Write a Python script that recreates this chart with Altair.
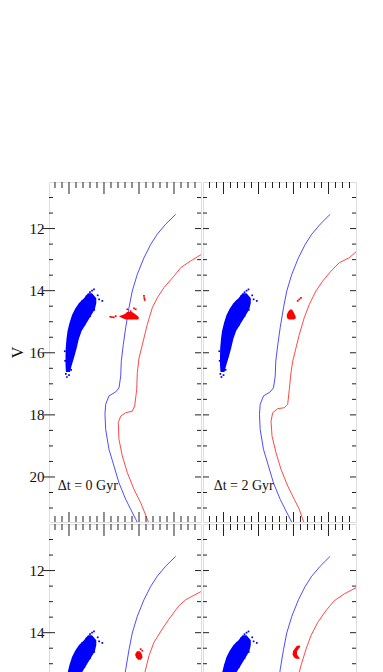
import altair as alt
import pandas as pd

# ---------------- data ----------------
# x = colour index, V = magnitude
blue_iso_c = [1.524, 1.381, 1.261, 1.167, 1.071, 0.976, 0.904, 0.857, 0.810, 0.776, 0.747, 0.739,
              0.714, 0.667, 0.571, 0.524, 0.514, 0.524, 0.571, 0.643, 0.714, 0.810, 0.881, 0.953, 1.0]
blue_iso_v = [11.54, 11.86, 12.18, 12.51, 12.94, 13.47, 14.01, 14.55, 15.19, 15.73, 16.27, 16.75,
              17.13, 17.26, 17.39, 17.66, 17.98, 18.47, 19.11, 19.65, 20.19, 20.72, 21.04, 21.36, 21.58]

red0_c = [1.929, 1.871, 1.739, 1.596, 1.5, 1.357, 1.261, 1.190, 1.119, 1.061, 1.0, 0.976, 0.967, 0.939,
          0.904, 0.810, 0.739, 0.704, 0.714, 0.761, 0.833, 0.929, 1.024, 1.119, 1.157]
red0_v = [12.79, 12.86, 13.04, 13.26, 13.53, 13.90, 14.23, 14.55, 15.08, 15.62, 16.17, 16.64, 17.18, 17.71,
          17.88, 17.93, 18.04, 18.25, 18.79, 19.32, 19.86, 20.40, 20.83, 21.36, 21.58]

red2_c = [1.964, 1.893, 1.797, 1.654, 1.536, 1.417, 1.321, 1.226, 1.154, 1.083, 1.036, 0.989, 0.964, 0.940,
          0.917, 0.869, 0.774, 0.703, 0.679, 0.693, 0.75, 0.821, 0.917, 1.011, 1.083, 1.14, 1.179]
red2_v = [12.69, 12.75, 12.94, 13.10, 13.37, 13.69, 14.01, 14.44, 14.87, 15.41, 15.84, 16.27, 16.64, 17.18,
          17.66, 17.77, 17.80, 17.93, 18.20, 18.68, 19.22, 19.75, 20.29, 20.72, 21.04, 21.42, 21.58]

red4_c = [1.95, 1.881, 1.667, 1.571, 1.429, 1.333, 1.214, 1.143, 1.096, 1.064]
red4_v = [12.60, 12.68, 12.94, 13.13, 13.56, 13.88, 14.31, 14.74, 15.17, 15.47]

red6_c = [1.95, 1.903, 1.726, 1.583, 1.464, 1.346, 1.25, 1.179, 1.107, 1.069, 1.05]
red6_v = [12.45, 12.54, 12.75, 12.97, 13.29, 13.67, 14.09, 14.53, 15.06, 15.38, 15.6]

# blue horizontal branch: dense band (left/right edge per magnitude) + scattered stars
hb_v = [14.08, 14.24, 14.40, 14.59, 14.78, 15.04, 15.30, 15.56, 15.85, 16.14, 16.39, 16.62]
hb_left = [0.271, 0.214, 0.143, 0.086, 0.043, 0.007, -0.021, -0.036, -0.047, -0.05, -0.05, -0.043]
hb_right = [0.329, 0.39, 0.39, 0.37, 0.32, 0.25, 0.18, 0.14, 0.11, 0.075, 0.04, 0.014]
hb_pts_c = [0.476, 0.41, 0.357, 0.329, 0.30, 0.43, 0.19, 0.12, -0.055, -0.03, -0.045, 0.0, 0.03,
            0.36, 0.30, 0.22, 0.25, -0.06]
hb_pts_v = [14.33, 14.15, 13.96, 14.00, 14.05, 14.28, 14.33, 14.55, 16.26, 16.78, 16.68, 16.72, 16.55,
            14.62, 14.82, 15.10, 14.18, 15.95]

# red clumps (band + scattered stars), one per panel
rc0_v = [14.69, 14.75, 14.82, 14.88, 14.93]
rc0_l = [0.829, 0.80, 0.714, 0.757, 0.814]
rc0_r = [0.90, 0.943, 0.986, 1.0, 0.986]
rc0_pts_c = [0.667, 0.614, 0.64, 0.59, 0.833, 0.929, 0.953, 0.881, 1.071, 1.076, 1.081]
rc0_pts_v = [14.82, 14.85, 14.86, 14.84, 14.60, 14.57, 14.60, 14.66, 14.17, 14.24, 14.30]

rc2_v = [14.61, 14.69, 14.78, 14.88, 14.93]
rc2_l = [0.95, 0.921, 0.903, 0.907, 0.936]
rc2_r = [0.979, 1.0, 1.021, 1.036, 1.007]
rc2_pts_c = [1.083, 1.107, 1.06]
rc2_pts_v = [14.28, 14.23, 14.33]

rc4_v = [14.60, 14.70, 14.79, 14.87]
rc4_l = [0.971, 0.943, 0.957, 0.986]
rc4_r = [1.014, 1.043, 1.05, 1.029]
rc4_pts_c = [1.024, 1.047]
rc4_pts_v = [14.53, 14.58]

rc6_v = [14.42, 14.50, 14.60, 14.70, 14.79, 14.84]
rc6_l = [1.05, 1.021, 0.993, 0.986, 1.007, 1.036]
rc6_r = [1.10, 1.079, 1.05, 1.05, 1.079, 1.093]
rc6_pts_c = [1.08]
rc6_pts_v = [14.45]

labels = ["\u0394t = 0 Gyr", "\u0394t = 2 Gyr"]
label_c = [-0.16, -0.14]
label_v = [20.3, 20.3]

x_major = [0.0, 0.5, 1.0, 1.5]
x_minor = [-0.2, -0.1, 0.1, 0.2, 0.3, 0.4, 0.6, 0.7, 0.8, 0.9, 1.1, 1.2, 1.3, 1.4, 1.6, 1.7, 1.8]
y_major = [12, 14, 16, 18, 20]
y_minor = [11, 11.5, 12.5, 13, 13.5, 14.5, 15, 15.5, 16.5, 17, 17.5, 18.5, 19, 19.5, 20.5, 21]

FONT = "Liberation Serif"
TICK = "#222222"
BLUE = "#2020ff"
RED = "#ff1a1a"


def panel(width, height, xdom, vdom, red_c, red_v, rc_v, rc_l, rc_r, rc_pc, rc_pv,
          label=None, lab_c=None, lab_v=None, left_axis=False, title=None, bottom=True):
    xs = alt.Scale(domain=xdom, nice=False, zero=False)
    ys = alt.Scale(domain=vdom, reverse=True, nice=False, zero=False)
    if left_axis:
        yax = alt.Axis(values=[v for v in y_major if vdom[0] <= v <= vdom[1]], ticks=False, domain=False,
                       grid=False, labelFont=FONT, labelFontSize=15, labelColor="#111",
                       labelPadding=5, title=title, titleFont=FONT, titleFontSize=16,
                       titleFontWeight="normal", titleColor="#111", titlePadding=4)
    else:
        yax = None

    def X(f):
        return alt.X(f, type="quantitative", scale=xs, axis=None)

    def Y(f="V"):
        return alt.Y(f, type="quantitative", scale=ys, axis=yax)

    layers = []
    hb = pd.DataFrame({"V": hb_v, "l": hb_left, "r": hb_right})
    layers.append(alt.Chart(hb).mark_area(orient="horizontal", color="#0000ff", clip=True)
                  .encode(y=Y(), x=X("l"), x2="r"))
    hbp = pd.DataFrame({"c": hb_pts_c, "V": hb_pts_v})
    layers.append(alt.Chart(hbp).mark_square(size=3, color="#0000ff", opacity=1, clip=True)
                  .encode(x=X("c"), y=Y()))
    bi = pd.DataFrame({"c": blue_iso_c, "V": blue_iso_v, "i": range(len(blue_iso_c))})
    layers.append(alt.Chart(bi).mark_line(color=BLUE, strokeWidth=0.8, clip=True)
                  .encode(x=X("c"), y=Y(), order="i:Q"))
    ri = pd.DataFrame({"c": red_c, "V": red_v, "i": range(len(red_c))})
    layers.append(alt.Chart(ri).mark_line(color=RED, strokeWidth=0.8, clip=True)
                  .encode(x=X("c"), y=Y(), order="i:Q"))
    rc = pd.DataFrame({"V": rc_v, "l": rc_l, "r": rc_r})
    layers.append(alt.Chart(rc).mark_area(orient="horizontal", color="#ff0000", clip=True)
                  .encode(y=Y(), x=X("l"), x2="r"))
    rcp = pd.DataFrame({"c": rc_pc, "V": rc_pv})
    layers.append(alt.Chart(rcp).mark_square(size=3, color="#ff0000", opacity=1, clip=True)
                  .encode(x=X("c"), y=Y()))
    if label:
        lt = pd.DataFrame({"c": [lab_c], "V": [lab_v], "t": [label]})
        layers.append(alt.Chart(lt).mark_text(align="left", baseline="middle", font=FONT,
                                               fontSize=14, color="#111")
                      .encode(x=X("c"), y=Y(), text="t:N"))

    xM = pd.DataFrame({"c": x_major})
    xm = pd.DataFrame({"c": x_minor})
    yM = pd.DataFrame({"V": [v for v in y_major if vdom[0] <= v <= vdom[1]]})
    ym = pd.DataFrame({"V": [v for v in y_minor if vdom[0] <= v <= vdom[1]]})

    def rule(df):
        return alt.Chart(df).mark_rule(color=TICK, strokeWidth=1)

    # top ticks (inward)
    layers.append(rule(xM).encode(x=X("c"), y=alt.value(0), y2=alt.value(12)))
    layers.append(rule(xm).encode(x=X("c"), y=alt.value(0), y2=alt.value(6)))
    if bottom:
        layers.append(rule(xM).encode(x=X("c"), y=alt.value(height), y2=alt.value(height - 10)))
        layers.append(rule(xm).encode(x=X("c"), y=alt.value(height), y2=alt.value(height - 6)))
    # left ticks
    layers.append(rule(yM).encode(y=Y(), x=alt.value(-6 if left_axis else 0), x2=alt.value(6)))
    layers.append(rule(ym).encode(y=Y(), x=alt.value(0), x2=alt.value(4)))
    # right ticks
    layers.append(rule(yM).encode(y=Y(), x=alt.value(width - 6), x2=alt.value(width)))
    layers.append(rule(ym).encode(y=Y(), x=alt.value(width - 4), x2=alt.value(width)))

    return alt.layer(*layers).properties(width=width, height=height)


XD_L = [-0.2857, 1.8857]
XD_R = [-0.293, 1.893]
VD_TOP = [10.5, 21.45]
VD_BOT = [10.5, 15.363]

tl = panel(152, 340, XD_L, VD_TOP, red0_c, red0_v, rc0_v, rc0_l, rc0_r, rc0_pts_c, rc0_pts_v,
           label=labels[0], lab_c=label_c[0], lab_v=label_v[0], left_axis=True, title="V")
tr = panel(153, 340, XD_R, VD_TOP, red2_c, red2_v, rc2_v, rc2_l, rc2_r, rc2_pts_c, rc2_pts_v,
           label=labels[1], lab_c=label_c[1], lab_v=label_v[1])
bl = panel(152, 151, XD_L, VD_BOT, red4_c, red4_v, rc4_v, rc4_l, rc4_r, rc4_pts_c, rc4_pts_v,
           left_axis=True, title=None, bottom=False)
br = panel(153, 151, XD_R, VD_BOT, red6_c, red6_v, rc6_v, rc6_l, rc6_r, rc6_pts_c, rc6_pts_v,
           bottom=False)

chart = (alt.concat(tl, tr, bl, br, columns=2, spacing=0)
         .properties(padding={"left": 0, "top": 173, "right": 0, "bottom": 0})
         .configure_view(stroke=TICK, strokeWidth=1)
         .configure_concat(spacing=0)
         .configure(background="white"))

chart.save("out.html", embed_options={"renderer": "svg", "actions": False})
